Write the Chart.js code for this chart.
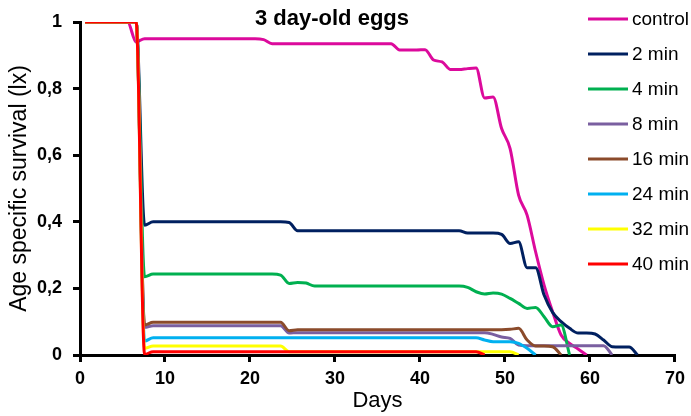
<!DOCTYPE html>
<html>
<head>
<meta charset="utf-8">
<script src="https://cdn.jsdelivr.net/npm/chart.js@4.4.1/dist/chart.umd.min.js"></script>
<style>
  html, body { margin: 0; padding: 0; background: #fff; }
</style>
</head>
<body>
<canvas id="chart" width="691" height="416"></canvas>
<script>
// ========== DATA ==========
const CHART_TITLE = '3 day-old eggs';
const X_TITLE = 'Days';
const Y_TITLE = 'Age specific survival (lx)';
const Y_TICK_LABELS = ['0', '0,2', '0,4', '0,6', '0,8', '1'];

const DAYS = [
  0.6, 1.6, 2.6, 3.6, 4.6, 5.6, 6.6, 7.6, 8.6, 9.6,
  10.6, 11.6, 12.6, 13.6, 14.6, 15.6, 16.6, 17.6, 18.6, 19.6,
  20.6, 21.6, 22.6, 23.6, 24.6, 25.6, 26.6, 27.6, 28.6, 29.6,
  30.6, 31.6, 32.6, 33.6, 34.6, 35.6, 36.6, 37.6, 38.6, 39.6,
  40.6, 41.6, 42.6, 43.6, 44.6, 45.6, 46.6, 47.6, 48.6, 49.6,
  50.6, 51.6, 52.6, 53.6, 54.6, 55.6, 56.6, 57.6, 58.6, 59.6,
  60.6, 61.6, 62.6, 63.6, 64.6, 65.6
];

const SERIES_LABELS = ['control', '2 min', '4 min', '8 min', '16 min', '24 min', '32 min', '40 min'];
const SERIES_COLORS = ['#DC0A9C', '#002060', '#00B050', '#7A5FA0', '#8B4B2B', '#00B0F0', '#FFFF00', '#FF0000'];

const control = [
  1, 1, 1, 1, 1, 1, 0.94,
  0.95, 0.95, 0.95, 0.95, 0.95, 0.95, 0.95, 0.95, 0.95, 0.95, 0.95, 0.95, 0.95, 0.95,
  0.947,
  0.935, 0.935, 0.935, 0.935, 0.935, 0.935, 0.935, 0.935, 0.935, 0.935, 0.935, 0.935, 0.935, 0.935, 0.935,
  0.916, 0.916, 0.916, 0.917,
  0.886, 0.88, 0.857, 0.857, 0.86, 0.862,
  0.772, 0.775, 0.68, 0.62, 0.48, 0.42, 0.31, 0.21, 0.13, 0.06, 0.035, 0.018, 0
];
const min2 = [
  1, 1, 1, 1, 1, 1, 1, 0.39,
  0.40, 0.40, 0.40, 0.40, 0.40, 0.40, 0.40, 0.40, 0.40, 0.40, 0.40, 0.40, 0.40, 0.40, 0.40, 0.40,
  0.398,
  0.373, 0.373, 0.373, 0.373, 0.373, 0.373, 0.373, 0.373, 0.373, 0.373,
  0.373, 0.373, 0.373, 0.373, 0.373, 0.373, 0.373, 0.373, 0.373, 0.373,
  0.366, 0.366, 0.366, 0.366, 0.362,
  0.335, 0.34, 0.262, 0.262, 0.18, 0.128, 0.1, 0.08, 0.066, 0.066, 0.063, 0.045, 0.025, 0.024, 0.024, 0
];
const min4 = [
  1, 1, 1, 1, 1, 1, 1, 0.235,
  0.243, 0.243, 0.243, 0.243, 0.243, 0.243, 0.243, 0.243, 0.243, 0.243, 0.243, 0.243, 0.243, 0.243, 0.243,
  0.24, 0.215, 0.218, 0.216,
  0.207, 0.207, 0.207, 0.207, 0.207, 0.207, 0.207, 0.207, 0.207,
  0.207, 0.207, 0.207, 0.207, 0.207, 0.207, 0.207, 0.207, 0.207,
  0.203, 0.19, 0.183, 0.186, 0.183, 0.17, 0.155, 0.14, 0.143, 0.115, 0.085, 0.09, 0
];
const min8 = [
  1, 1, 1, 1, 1, 1, 1, 0.083,
  0.088, 0.088, 0.088, 0.088, 0.088, 0.088, 0.088, 0.088, 0.088, 0.088, 0.088, 0.088, 0.088, 0.088, 0.088, 0.088,
  0.066,
  0.067, 0.067, 0.067, 0.067, 0.067, 0.067, 0.067, 0.067, 0.067, 0.067, 0.067, 0.067,
  0.067, 0.067, 0.067, 0.067, 0.067, 0.067, 0.067, 0.067, 0.067, 0.067, 0.067,
  0.062, 0.054, 0.05, 0.03,
  0.028, 0.028, 0.028, 0.028, 0.028, 0.028, 0.028, 0.028, 0.028, 0.028, 0
];
const min16 = [
  1, 1, 1, 1, 1, 1, 1, 0.09,
  0.098, 0.098, 0.098, 0.098, 0.098, 0.098, 0.098, 0.098, 0.098, 0.098, 0.098, 0.098, 0.098, 0.098, 0.098, 0.098,
  0.073,
  0.076, 0.076, 0.076, 0.076, 0.076, 0.076, 0.076, 0.076, 0.076, 0.076, 0.076, 0.076, 0.076,
  0.076, 0.076, 0.076, 0.076, 0.076, 0.076, 0.076, 0.076, 0.076, 0.076, 0.076, 0.076,
  0.077, 0.08, 0.045, 0.027, 0.027, 0.025, 0
];
const min24 = [
  1, 1, 1, 1, 1, 1, 1, 0.042,
  0.052, 0.052, 0.052, 0.052, 0.052, 0.052, 0.052, 0.052, 0.052, 0.052, 0.052, 0.052, 0.052,
  0.052, 0.052, 0.052, 0.052, 0.052, 0.052, 0.052, 0.052, 0.052, 0.052, 0.052, 0.052, 0.052,
  0.052, 0.052, 0.052, 0.052, 0.052, 0.052, 0.052, 0.052, 0.052, 0.052, 0.052, 0.052, 0.052,
  0.045, 0.04, 0.04, 0.04, 0.035, 0.02, 0
];
const min32 = [
  1, 1, 1, 1, 1, 1, 1, 0.02,
  0.027, 0.027, 0.027, 0.027, 0.027, 0.027, 0.027, 0.027, 0.027, 0.027, 0.027, 0.027, 0.027, 0.027, 0.027, 0.027,
  0.01,
  0.01, 0.01, 0.01, 0.01, 0.01, 0.01, 0.01, 0.01, 0.01, 0.01, 0.01, 0.01, 0.01,
  0.01, 0.01, 0.01, 0.01, 0.01, 0.01, 0.01, 0.01, 0.01, 0.01, 0.01, 0.01, 0.01,
  0
];
const min40 = [
  1, 1, 1, 1, 1, 1, 1, 0.002,
  0.01, 0.01, 0.01, 0.01, 0.01, 0.01, 0.01, 0.01, 0.01, 0.01, 0.01, 0.01, 0.01,
  0.01, 0.01, 0.01, 0.01, 0.01, 0.01, 0.01, 0.01, 0.01, 0.01, 0.01, 0.01, 0.01,
  0.01, 0.01, 0.01, 0.01, 0.01, 0.01, 0.01, 0.01, 0.01, 0.01, 0.01, 0.01, 0.01,
  0
];

const SERIES_VALUES = [control, min2, min4, min8, min16, min24, min32, min40];

// ========== CHART ==========
const FONT = 'Liberation Sans, Arial, sans-serif';

function toPoints(values) {
  return values.map((v, i) => ({ x: DAYS[i], y: v }));
}

// title and legend sit inside the plot, like the original
const overlay = {
  id: 'overlay',
  afterDraw(chart) {
    const c = chart.ctx;
    c.save();
    c.fillStyle = '#000';
    c.font = 'bold 22px ' + FONT;
    c.textAlign = 'center';
    c.textBaseline = 'alphabetic';
    c.fillText(CHART_TITLE, 332, 25);

    c.font = '19px ' + FONT;
    c.textAlign = 'left';
    c.textBaseline = 'middle';
    chart.data.datasets.forEach((ds, i) => {
      const y = 19 + i * 35;
      c.strokeStyle = ds.borderColor;
      c.lineWidth = 3;
      c.beginPath();
      c.moveTo(588, y);
      c.lineTo(628, y);
      c.stroke();
      c.fillText(ds.label, 632, y + 1);
    });
    c.restore();
  }
};

const datasets = SERIES_LABELS.map((label, i) => ({
  label: label,
  data: toPoints(SERIES_VALUES[i]),
  borderColor: SERIES_COLORS[i],
  borderWidth: 3,
  pointRadius: 0,
  fill: false,
  cubicInterpolationMode: 'monotone',
  order: SERIES_LABELS.length - i
}));

new Chart(document.getElementById('chart'), {
  type: 'line',
  data: { datasets: datasets },
  options: {
    responsive: false,
    animation: false,
    layout: { padding: { left: 0, right: 16, top: 22, bottom: 0 } },
    plugins: {
      legend: { display: false },
      tooltip: { enabled: false }
    },
    scales: {
      x: {
        type: 'linear',
        min: 0,
        max: 70,
        ticks: { stepSize: 10, color: '#000', padding: 6, font: { family: FONT, size: 18, weight: 'bold' } },
        grid: { drawOnChartArea: false, tickLength: 7, color: '#000', lineWidth: 3 },
        border: { color: '#000', width: 3 },
        title: { display: true, text: X_TITLE, color: '#000', font: { family: FONT, size: 22 }, padding: { top: 0, bottom: 2 } },
        afterFit: s => { s.height = 61; }
      },
      y: {
        min: 0,
        max: 1,
        ticks: {
          stepSize: 0.2,
          color: '#000',
          padding: 11,
          font: { family: FONT, size: 18, weight: 'bold' },
          callback: v => Y_TICK_LABELS[Math.round(v * 5)]
        },
        grid: { drawOnChartArea: false, tickLength: 7, color: '#000', lineWidth: 3 },
        border: { color: '#000', width: 3 },
        title: { display: true, text: Y_TITLE, color: '#000', font: { family: FONT, size: 23 }, padding: { top: 6, bottom: 0 } },
        afterFit: s => { s.width = 80; }
      }
    }
  },
  plugins: [overlay]
});
</script>
</body>
</html>
